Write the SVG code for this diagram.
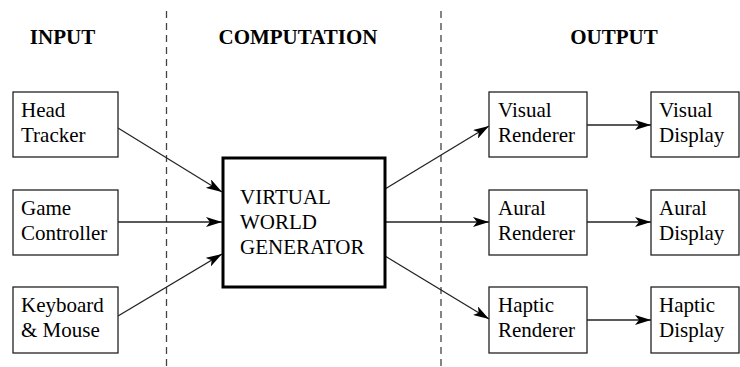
<svg xmlns="http://www.w3.org/2000/svg" width="740" height="367" viewBox="0 0 740 367">
<style>
.box{fill:#fff;stroke:#222;stroke-width:1.3}
.main{fill:#fff;stroke:#000;stroke-width:3}
.t{font-family:"Liberation Serif",serif;font-size:21px;fill:#000}
.h{font-family:"Liberation Serif",serif;font-size:21px;font-weight:bold;fill:#000}
.c{stroke:#222;stroke-width:1.3;fill:none;marker-end:url(#ah)}
.d{stroke:#444;stroke-width:1.3;stroke-dasharray:7,5;fill:none}
</style>
<defs>
<marker id="ah" viewBox="0 0 16 10" refX="16" refY="5" markerWidth="16" markerHeight="10" markerUnits="userSpaceOnUse" orient="auto">
<path d="M0,0 L16,5 L0,10 L4,5 Z" fill="#000"/>
</marker>
</defs>
<rect width="740" height="367" fill="#fff"/>
<g id="dividers">
<line class="d" x1="166.5" y1="11" x2="166.5" y2="367"/>
<line class="d" x1="441" y1="11" x2="441" y2="367"/>
</g>
<g id="headers">
<text class="h" x="62.5" y="44" text-anchor="middle">INPUT</text>
<text class="h" x="298" y="44" text-anchor="middle">COMPUTATION</text>
<text class="h" x="614" y="44" text-anchor="middle">OUTPUT</text>
</g>
<g id="connectors">
<line class="c" x1="118" y1="128" x2="222" y2="192"/>
<line class="c" x1="118" y1="222" x2="222" y2="222"/>
<line class="c" x1="118" y1="316" x2="222" y2="254"/>
<line class="c" x1="385" y1="189" x2="489" y2="126"/>
<line class="c" x1="385" y1="222" x2="489" y2="222"/>
<line class="c" x1="385" y1="256" x2="489" y2="319"/>
<line class="c" x1="587" y1="125" x2="651" y2="125"/>
<line class="c" x1="587" y1="222" x2="651" y2="222"/>
<line class="c" x1="587" y1="320" x2="651" y2="320"/>
</g>
<g id="head-tracker"><rect class="box" x="13" y="92" width="105" height="65"/><text class="t" x="21" y="117">Head</text><text class="t" x="21" y="142">Tracker</text></g>
<g id="game-controller"><rect class="box" x="13" y="190" width="105" height="65"/><text class="t" x="21" y="215">Game</text><text class="t" x="21" y="240">Controller</text></g>
<g id="keyboard-mouse"><rect class="box" x="13" y="287" width="105" height="66"/><text class="t" x="21" y="312">Keyboard</text><text class="t" x="21" y="337">&amp; Mouse</text></g>
<g id="vwg"><rect class="main" x="223" y="158" width="162" height="129"/><text class="t" x="240" y="204">VIRTUAL</text><text class="t" x="240" y="229">WORLD</text><text class="t" x="240" y="254">GENERATOR</text></g>
<g id="visual-renderer"><rect class="box" x="489" y="92" width="98" height="65"/><text class="t" x="498" y="117">Visual</text><text class="t" x="498" y="142">Renderer</text></g>
<g id="aural-renderer"><rect class="box" x="489" y="190" width="98" height="65"/><text class="t" x="498" y="215">Aural</text><text class="t" x="498" y="240">Renderer</text></g>
<g id="haptic-renderer"><rect class="box" x="489" y="287" width="98" height="66"/><text class="t" x="498" y="312">Haptic</text><text class="t" x="498" y="337">Renderer</text></g>
<g id="visual-display"><rect class="box" x="651" y="92" width="88" height="65"/><text class="t" x="659" y="117">Visual</text><text class="t" x="659" y="142">Display</text></g>
<g id="aural-display"><rect class="box" x="651" y="190" width="88" height="65"/><text class="t" x="659" y="215">Aural</text><text class="t" x="659" y="240">Display</text></g>
<g id="haptic-display"><rect class="box" x="651" y="287" width="88" height="66"/><text class="t" x="659" y="312">Haptic</text><text class="t" x="659" y="337">Display</text></g>
</svg>
